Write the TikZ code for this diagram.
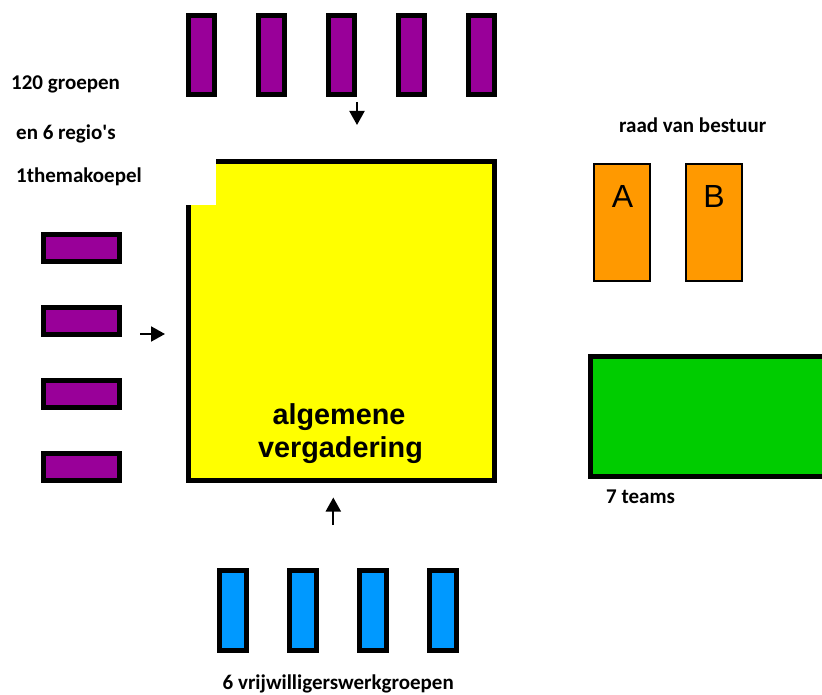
\documentclass[tikz,border=0pt]{standalone}
\usepackage{fontspec}
\setmainfont{Carlito}
\newfontfamily\headfont{Liberation Sans}
\usetikzlibrary{arrows.meta}

\definecolor{grouppurple}{RGB}{153,0,153}
\definecolor{volunteerblue}{RGB}{0,153,255}
\definecolor{boardorange}{RGB}{255,153,0}
\definecolor{teamgreen}{RGB}{0,204,0}
\definecolor{assemblyyellow}{RGB}{255,255,0}

\tikzset{
  thickbox/.style={draw=black, line width=5pt, inner sep=0pt, outer sep=0pt},
  groupv/.style={thickbox, fill=grouppurple, minimum width=26pt, minimum height=79pt},
  grouph/.style={thickbox, fill=grouppurple, minimum width=76pt, minimum height=27.5pt},
  workgroup/.style={thickbox, fill=volunteerblue, minimum width=27pt, minimum height=80pt},
  boardbox/.style={draw=black, line width=2pt, fill=boardorange, inner sep=0pt,
    minimum width=56pt, minimum height=116.5pt},
  caption/.style={font=\bfseries\fontsize{21}{25}\selectfont, inner sep=0pt, anchor=base west},
  boardletter/.style={font=\headfont\fontsize{32}{36}\selectfont, inner sep=0pt, anchor=base},
  avtext/.style={font=\headfont\bfseries\fontsize{28.8}{33}\selectfont, inner sep=0pt, anchor=base},
  flow/.style={line width=2pt, -{Triangle[width=15pt,length=14pt]}}
}

\begin{document}
\begin{tikzpicture}[x=1pt,y=-1pt]
\useasboundingbox (0,0) rectangle (822,695);

% general assembly, with its top-left corner cut away
\node[thickbox, fill=assemblyyellow, minimum width=306pt, minimum height=319pt]
  (assembly) at (341.5,321) {};
\fill[white] (183,156) rectangle (216,205);
\node[avtext] (avone) at (339,424) {algemene};
\node[avtext] (avtwo) at (340.5,457) {vergadering};

% groups and regions along the top
\foreach \i/\x in {1/201.5, 2/271, 3/341, 4/411, 5/481}
  \node[groupv] (top\i) at (\x,55) {};

% groups and regions on the left
\foreach \i/\y in {1/248, 2/321, 3/394, 4/467}
  \node[grouph] (left\i) at (81.5,\y) {};

% volunteer working groups at the bottom
\foreach \i/\x in {1/233.3, 2/303, 3/373, 4/443}
  \node[workgroup] (bottom\i) at (\x,610.8) {};

% board
\node[boardbox] (boardA) at (622,222.5) {};
\node[boardbox] (boardB) at (714,222.5) {};
\node[boardletter] (letterA) at (622.5,207.3) {A};
\node[boardletter] (letterB) at (714,207.3) {B};

% teams
\node[thickbox, fill=teamgreen, minimum width=249.5pt, minimum height=120.3pt]
  (teams) at (715.25,416.6) {};

% flows into the assembly
\coordinate (topfrom) at (357,102);
\coordinate (topto) at (357,125);
\coordinate (leftfrom) at (140,334);
\coordinate (leftto) at (165,334);
\coordinate (bottomfrom) at (333.3,525);
\coordinate (bottomto) at (333.3,497.5);
\draw[flow] (topfrom) -- (topto);
\draw[flow] (leftfrom) -- (leftto);
\draw[flow] (bottomfrom) -- (bottomto);

% captions
\node[caption] (groups) at (11,90) {120 groepen};
\node[caption] (regions) at (16,139.5) {en 6 regio\textquotesingle s};
\node[caption] (theme) at (16,183) {1themakoepel};
\node[caption] (board) at (619,133) {raad van bestuur};
\node[caption] (teamslabel) at (606,503.5) {7 teams};
\node[caption] (volunteers) at (222.5,689.5) {6 vrijwilligerswerkgroepen};
\end{tikzpicture}
\end{document}
